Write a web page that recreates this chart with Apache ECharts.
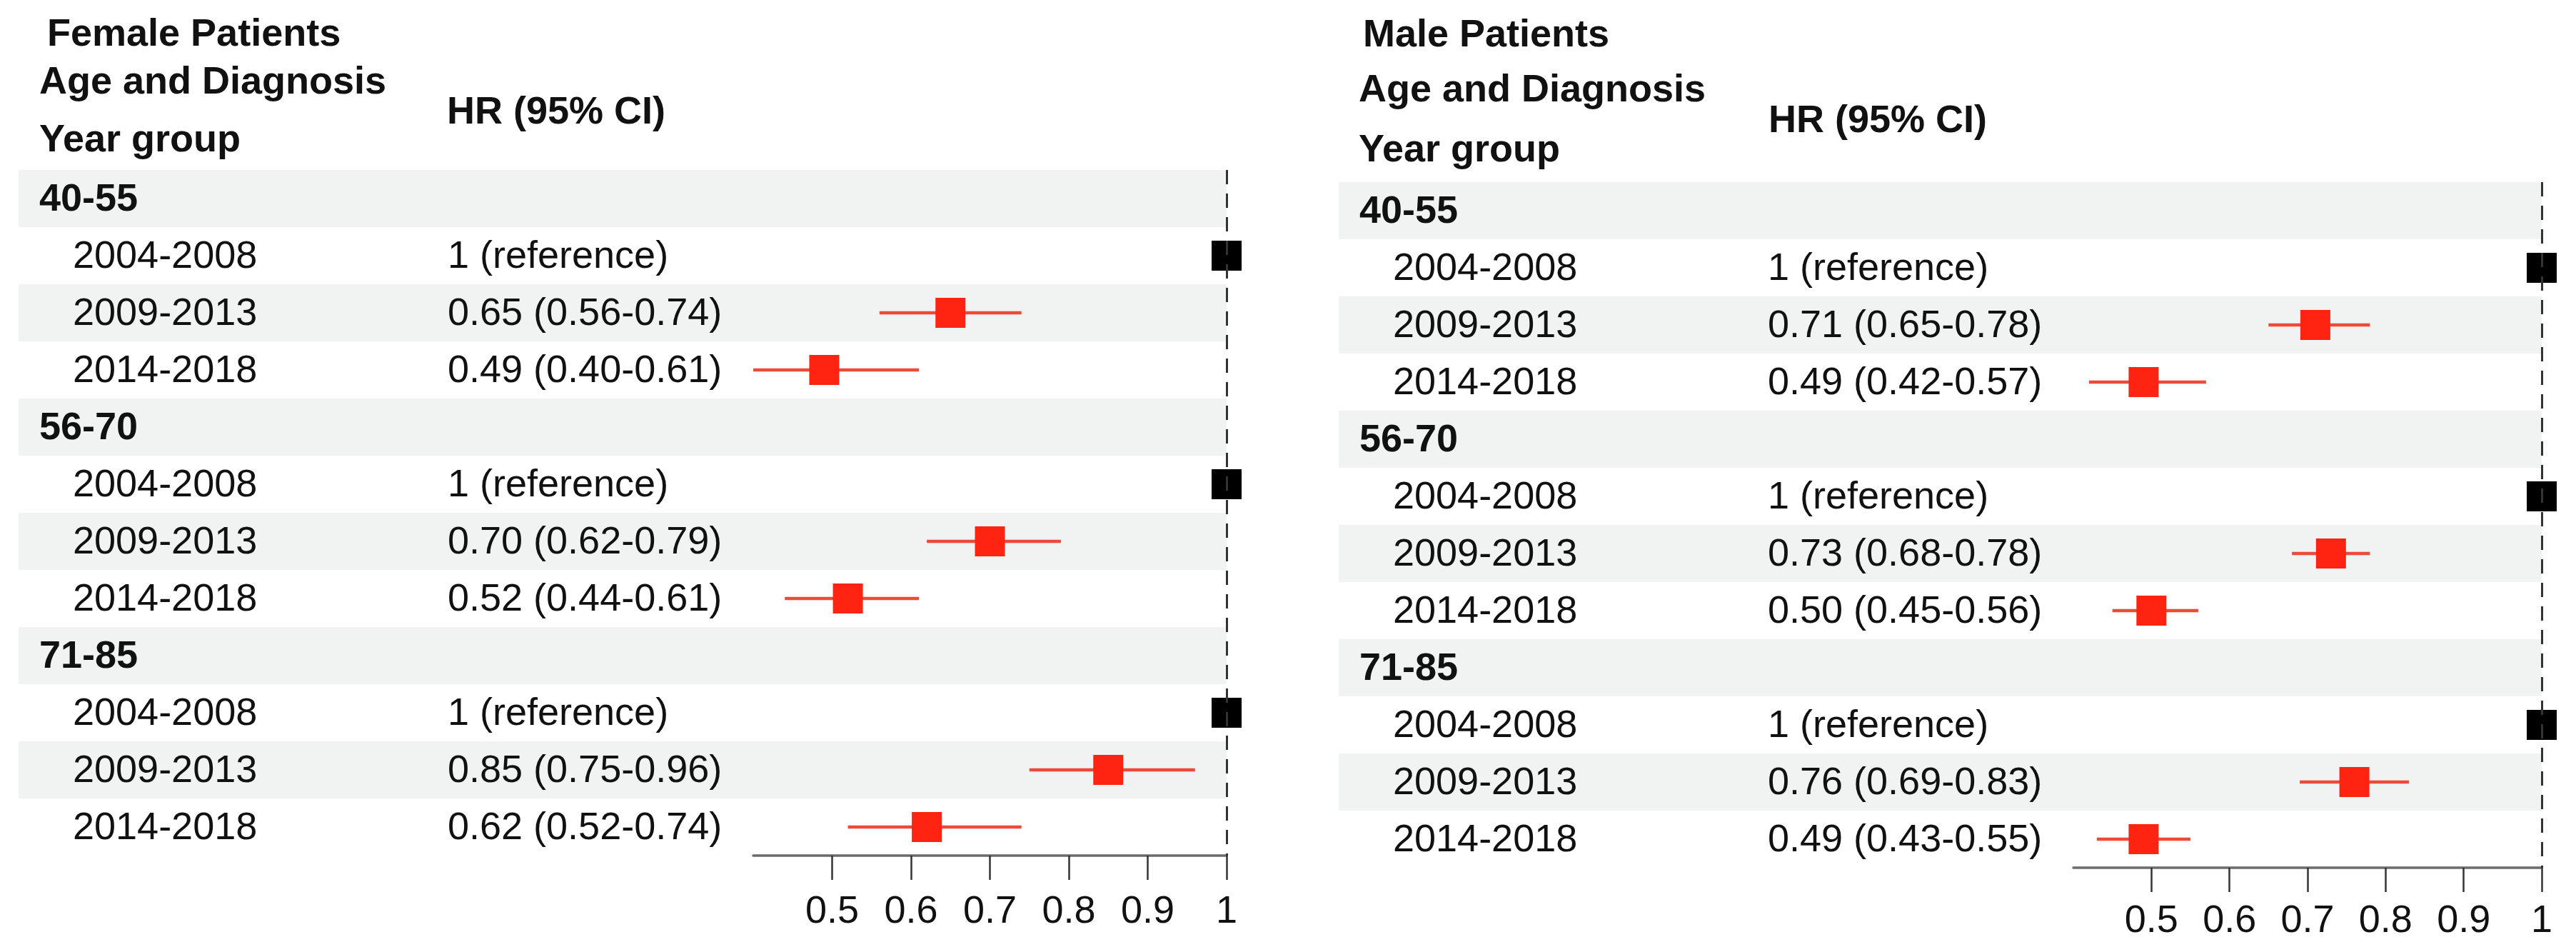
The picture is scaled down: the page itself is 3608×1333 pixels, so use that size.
<!DOCTYPE html>
<html>
<head>
<meta charset="utf-8">
<script src="https://cdn.jsdelivr.net/npm/echarts@6/dist/echarts.min.js"></script>
<style>
html,body{margin:0;padding:0;background:#fff;}
#chart{width:3608px;height:1333px;}
</style>
</head>
<body>
<div id="chart"></div>
<script>
// ---------------- data ----------------
const ageGroups = ['40-55', '56-70', '71-85'];
const yearGroups = ['2004-2008', '2009-2013', '2014-2018'];

// per age group x year group (row order: 40-55, 56-70, 71-85; within each 2004-2008, 2009-2013, 2014-2018)
const femaleEst  = [1, 0.65, 0.49, 1, 0.70, 0.52, 1, 0.85, 0.62];
const femaleLow  = [null, 0.56, 0.40, null, 0.62, 0.44, null, 0.75, 0.52];
const femaleHigh = [null, 0.74, 0.61, null, 0.79, 0.61, null, 0.96, 0.74];

const maleEst  = [1, 0.71, 0.49, 1, 0.73, 0.50, 1, 0.76, 0.49];
const maleLow  = [null, 0.65, 0.42, null, 0.68, 0.45, null, 0.69, 0.43];
const maleHigh = [null, 0.78, 0.57, null, 0.78, 0.56, null, 0.83, 0.55];

const xTicks = [0.5, 0.6, 0.7, 0.8, 0.9, 1];
const xMin = 0.4, xMax = 1;

const panelTitles = ['Female Patients', 'Male Patients'];
const colHeader1 = ['Age and Diagnosis', 'Year group'];
const colHeader2 = 'HR (95% CI)';
const refText = '1 (reference)';

// ---------------- build rows ----------------
function buildRows(est, low, high) {
  const rows = [];
  ageGroups.forEach((ag, a) => {
    rows.push({label: ag, header: true, hr: '', est: null, low: null, high: null});
    yearGroups.forEach((yg, y) => {
      const k = a * yearGroups.length + y;
      const e = est[k], l = low[k], h = high[k];
      const txt = (l == null) ? refText : e.toFixed(2) + ' (' + l.toFixed(2) + '-' + h.toFixed(2) + ')';
      rows.push({label: yg, header: false, hr: txt, est: e, low: l, high: h});
    });
  });
  return rows;
}
const panels = [buildRows(femaleEst, femaleLow, femaleHigh), buildRows(maleEst, maleLow, maleHigh)];

// ---------------- style ----------------
const FONT = '"Liberation Sans", Arial, Helvetica, sans-serif';
const FS = 54;
const TXT = '#111111';
const BAND = '#f1f3f2';
const RED = '#ff2412';
const CI = '#ee4a3a';

const grids = [
  {left: 1055, top: 238, width: 663, height: 960},
  {left: 2904, top: 255, width: 656, height: 960}
];
const OFF_HEAD = -1000, OFF_SUB = -953, OFF_HR = -428, OFF_BAND = -1029;

const option = {
  backgroundColor: '#fff',
  animation: false,
  grid: grids,
  xAxis: grids.map((g, i) => ({
    gridIndex: i, type: 'value', min: xMin, max: xMax, interval: 0.1,
    axisLine: {show: true, lineStyle: {color: '#6b6b6b', width: 3.5}},
    axisTick: {show: true, inside: false, length: 34, customValues: xTicks, lineStyle: {color: '#333', width: 2.5}},
    axisLabel: {show: true, customValues: xTicks, margin: i === 0 ? 52 : 48, fontSize: FS, fontFamily: FONT, color: TXT,
      formatter: v => String(+v.toFixed(1))},
    splitLine: {show: false}
  })),
  yAxis: grids.map((g, i) => ({
    gridIndex: i, type: 'category', inverse: true,
    data: panels[i].map(r => r.label),
    axisLine: {show: false}, axisTick: {show: false}, axisLabel: {show: false}, splitLine: {show: false}
  })),
  graphic: [],
  series: []
};

// headers
const headerPos = [
  {title: [66, 49], h1: [55, 116], h2: [55, 197], hr: [626, 158]},
  {title: [1909, 50], h1: [1903, 127], h2: [1903, 211], hr: [2477, 170]}
];
headerPos.forEach((p, i) => {
  const mk = (pos, text) => ({
    type: 'text', x: pos[0], y: pos[1],
    style: {text: text, fill: TXT, fontSize: FS, fontWeight: 'bold', fontFamily: FONT, verticalAlign: 'middle', align: 'left'}
  });
  option.graphic.push(mk(p.title, panelTitles[i]), mk(p.h1, colHeader1[0]), mk(p.h2, colHeader1[1]), mk(p.hr, colHeader2));
});

panels.forEach((rows, pi) => {
  // bands + text columns
  option.series.push({
    type: 'custom', xAxisIndex: pi, yAxisIndex: pi, z: 1, silent: true, clip: false,
    data: rows.map((r, i) => [xMax, i]),
    renderItem: function (params, api) {
      const i = api.value(1);
      const r = rows[i];
      const c = api.coord([xMax, i]);
      const rowH = api.size([0, 1])[1];
      const gx = params.coordSys.x;
      const children = [];
      if (i % 2 === 0) {
        children.push({type: 'rect', shape: {x: gx + OFF_BAND, y: c[1] - rowH / 2, width: c[0] - (gx + OFF_BAND), height: rowH},
          style: {fill: BAND}});
      }
      children.push({type: 'text', style: {text: r.label, x: gx + (r.header ? OFF_HEAD : OFF_SUB), y: c[1] + 2,
        fill: TXT, fontSize: FS, fontWeight: r.header ? 'bold' : 'normal', fontFamily: FONT, verticalAlign: 'middle', align: 'left'}});
      if (r.hr) {
        children.push({type: 'text', style: {text: r.hr, x: gx + OFF_HR, y: c[1] + 2,
          fill: TXT, fontSize: FS, fontFamily: FONT, verticalAlign: 'middle', align: 'left'}});
      }
      return {type: 'group', children: children};
    }
  });
  // estimates + CIs
  const est = rows.map((r, i) => r.est == null ? null : [r.est, r.low, r.high, i]).filter(d => d);
  option.series.push({
    type: 'custom', xAxisIndex: pi, yAxisIndex: pi, z: 3, silent: true, clip: false,
    data: est.map(d => [d[0], d[3], d[1] == null ? '-' : d[1], d[2] == null ? '-' : d[2]]),
    encode: {x: 0, y: 1},
    renderItem: function (params, api) {
      const e = api.value(0), i = api.value(1), lo = api.value(2), hi = api.value(3);
      const c = api.coord([e, i]);
      const S = 42;
      const children = [];
      const isRef = (lo == null || isNaN(lo));
      if (!isRef) {
        const p1 = api.coord([lo, i]), p2 = api.coord([hi, i]);
        children.push({type: 'line', shape: {x1: p1[0], y1: c[1], x2: p2[0], y2: c[1]}, style: {stroke: CI, lineWidth: 4.5}});
      }
      children.push({type: 'rect', shape: {x: c[0] - S / 2, y: c[1] - S / 2, width: S, height: S},
        style: {fill: isRef ? '#000' : RED}});
      return {type: 'group', children: children};
    },
    markLine: {
      silent: true, symbol: ['none', 'none'], label: {show: false},
      lineStyle: {type: [20, 13], color: '#333', width: 3},
      data: [{xAxis: 1}]
    }
  });
});

const chart = echarts.init(document.getElementById('chart'));
chart.setOption(option);
</script>
</body>
</html>
